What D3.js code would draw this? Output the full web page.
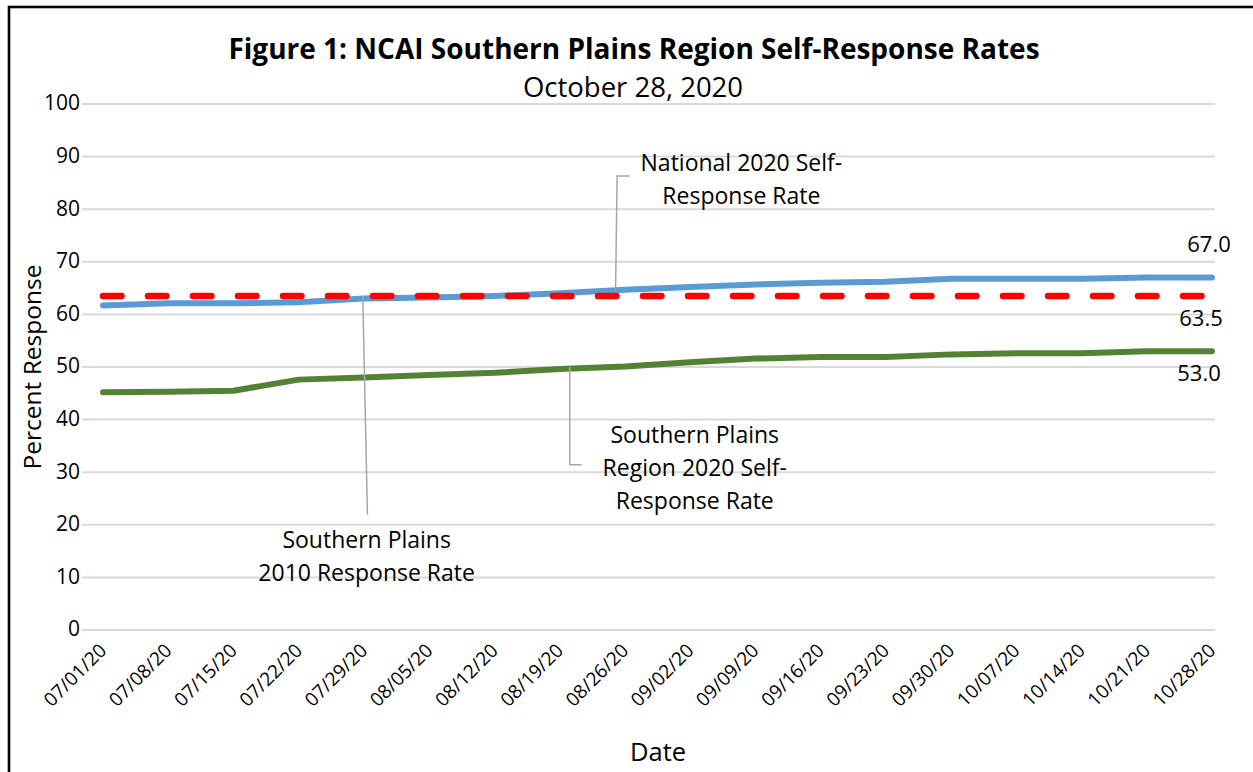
<!DOCTYPE html>
<html>
<head>
<meta charset="utf-8">
<script src="https://cdn.jsdelivr.net/npm/d3@7"></script>
<style>
  body { margin: 0; background: #fff; }
  svg { font-family: "Open Sans", Lato, sans-serif; }
</style>
</head>
<body>
<svg id="chart" width="1253" height="772"></svg>
<script>
// weekly readings
const dates = ["07/01/20", "07/08/20", "07/15/20", "07/22/20", "07/29/20", "08/05/20",
  "08/12/20", "08/19/20", "08/26/20", "09/02/20", "09/09/20", "09/16/20",
  "09/23/20", "09/30/20", "10/07/20", "10/14/20", "10/21/20", "10/28/20"];
const national2020 = [61.7, 62.1, 62.1, 62.3, 63.0, 63.2, 63.5, 64.0, 64.7, 65.2,
  65.7, 66.0, 66.2, 66.8, 66.8, 66.8, 67.0, 67.0];
const southernPlains2020 = [45.2, 45.3, 45.5, 47.6, 48.0, 48.5, 48.9, 49.6, 50.1, 50.9,
  51.6, 51.9, 51.9, 52.4, 52.6, 52.6, 53.0, 53.0];
const southernPlains2010 = 63.5;
const yTicks = [0, 10, 20, 30, 40, 50, 60, 70, 80, 90, 100];

// data labels with leader lines, positions given as [day since 07/01, value]
const callouts = [
  { lines: ["National 2020 Self-", "Response Rate"], at: [68.5, 88.8], step: -6.3,
    leader: [[55, 64.6], [55.2, 86.3], [56.5, 86.3]] },
  { lines: ["Southern Plains", "Region 2020 Self-", "Response Rate"], at: [63.5, 37.1], step: -6.3,
    leader: [[50.1, 50.0], [50.1, 31.4], [51.4, 31.4]] },
  { lines: ["Southern Plains", "2010 Response Rate"], at: [28.3, 17.1], step: -6.3,
    leader: [[27.9, 63.5], [28.4, 21.9]] }
];

const parse = d3.timeParse("%m/%d/%y");
const fmt = d3.timeFormat("%m/%d/%y");
const t0 = parse(dates[0]);
const day = n => d3.timeHour.offset(t0, n * 24);

const svg = d3.select("#chart");

const x = d3.scaleTime()
  .domain([t0, parse(dates[dates.length - 1])])
  .range([103, 1212]);
const y = d3.scaleLinear().domain([0, 100]).range([630, 104]);

// outer frame
svg.append("rect")
  .attr("x", 9).attr("y", 7)
  .attr("width", 1300).attr("height", 800)
  .attr("fill", "none").attr("stroke", "#000").attr("stroke-width", 2.6);

// title
svg.append("text")
  .attr("x", 634).attr("y", 59)
  .attr("text-anchor", "middle")
  .style("font-size", "28px").style("font-weight", "bold")
  .text("Figure 1: NCAI Southern Plains Region Self-Response Rates");
svg.append("text")
  .attr("x", 633).attr("y", 97)
  .attr("text-anchor", "middle")
  .style("font-size", "27.5px")
  .text("October 28, 2020");

// gridlines + y labels
const gx0 = x.range()[0] - 21, gx1 = x.range()[1] + 3;
svg.append("g").selectAll("line")
  .data(yTicks)
  .join("line")
  .attr("x1", gx0).attr("x2", gx1)
  .attr("y1", d => y(d)).attr("y2", d => y(d))
  .attr("stroke", "#d9d9d9").attr("stroke-width", 2);

svg.append("g").selectAll("text")
  .data(yTicks)
  .join("text")
  .attr("x", 80).attr("y", d => y(d))
  .attr("dy", "0.3em")
  .attr("text-anchor", "end")
  .style("font-size", "21px")
  .text(d => d);

// x labels, weekly
const xTicks = dates.map(parse);
svg.append("g").selectAll("text")
  .data(xTicks)
  .join("text")
  .attr("transform", d => `translate(${x(d)},${647}) rotate(-45)`)
  .attr("text-anchor", "end")
  .attr("dy", "0.35em")
  .style("font-size", "19px")
  .text(d => fmt(d));

// axis titles
svg.append("text")
  .attr("transform", `translate(32,${y(50)}) rotate(-90)`)
  .attr("text-anchor", "middle")
  .attr("dy", "0.35em")
  .style("font-size", "24.5px")
  .text("Percent Response");
svg.append("text")
  .attr("x", 658).attr("y", 752)
  .attr("text-anchor", "middle")
  .attr("dy", "0.35em")
  .style("font-size", "25.5px")
  .text("Date");

// series
const line = d3.line()
  .x(d => x(d[0]))
  .y(d => y(d[1]));

svg.append("path")
  .datum(xTicks.map((d, i) => [d, national2020[i]]))
  .attr("d", line)
  .attr("fill", "none").attr("stroke", "#5b9bd5")
  .attr("stroke-width", 6).attr("stroke-linecap", "round").attr("stroke-linejoin", "round");

svg.append("path")
  .datum(xTicks.map((d, i) => [d, southernPlains2020[i]]))
  .attr("d", line)
  .attr("fill", "none").attr("stroke", "#548235")
  .attr("stroke-width", 6).attr("stroke-linecap", "round").attr("stroke-linejoin", "round");

svg.append("path")
  .datum(xTicks.map(d => [d, southernPlains2010]))
  .attr("d", line)
  .attr("fill", "none").attr("stroke", "#ff0000")
  .attr("stroke-width", 6.5).attr("stroke-linecap", "round")
  .attr("stroke-dasharray", "18.5 26.5");

// end value labels
const tEnd = xTicks[xTicks.length - 1];
const endLabels = [
  { v: national2020[national2020.length - 1], dx: -3, dy: -33 },
  { v: southernPlains2010, dx: -11, dy: 22 },
  { v: southernPlains2020[southernPlains2020.length - 1], dx: -13, dy: 22 }
];
svg.append("g").selectAll("text")
  .data(endLabels)
  .join("text")
  .attr("x", d => x(tEnd) + d.dx)
  .attr("y", d => y(d.v) + d.dy)
  .attr("dy", "0.35em")
  .attr("text-anchor", "middle")
  .style("font-size", "22px")
  .text(d => d.v.toFixed(1));

// callouts
const cg = svg.append("g");
callouts.forEach(c => {
  cg.append("path")
    .attr("d", d3.line().x(p => x(day(p[0]))).y(p => y(p[1]))(c.leader))
    .attr("fill", "none").attr("stroke", "#a6a6a6").attr("stroke-width", 1.5);
  cg.append("g").selectAll("text")
    .data(c.lines)
    .join("text")
    .attr("x", x(day(c.at[0])))
    .attr("y", (d, i) => y(c.at[1] + i * c.step))
    .attr("dy", "0.35em")
    .attr("text-anchor", "middle")
    .style("font-size", "23px")
    .text(d => d);
});
</script>
</body>
</html>
